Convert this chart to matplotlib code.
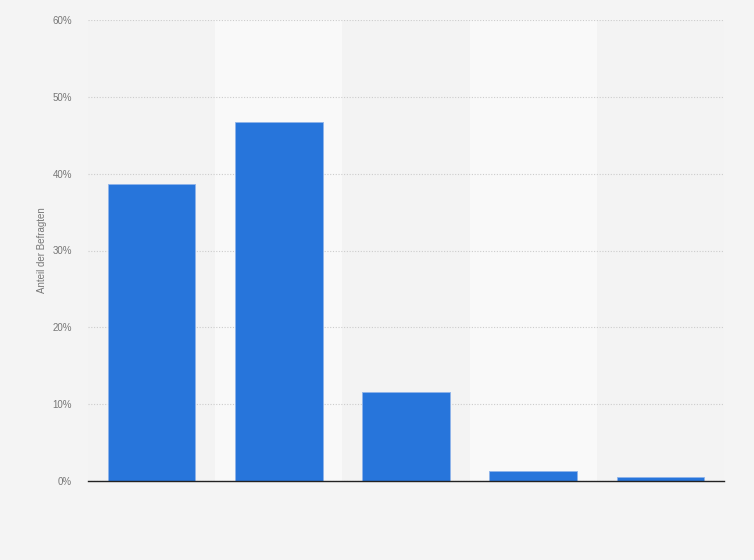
import matplotlib
matplotlib.use("Agg")
import matplotlib.pyplot as plt
import numpy as np

categories = ["Kategorie 1", "Kategorie 2", "Kategorie 3", "Kategorie 4", "Kategorie 5"]
values = [38.7, 46.7, 11.6, 1.3, 0.5]
yticks = [0, 10, 20, 30, 40, 50, 60]
ytick_labels = ["0%", "10%", "20%", "30%", "40%", "50%", "60%"]
ylabel = "Anteil der Befragten"

plt.rcParams['font.family'] = ['Liberation Sans', 'DejaVu Sans']

fig = plt.figure(figsize=(7.54, 5.6), dpi=100, facecolor="#f4f4f4")
ax = fig.add_axes([88/754, 1-481/560, 636/754, 461/560])
ax.set_facecolor("#f3f3f3")

x = np.arange(len(categories))
for i in x:
    if i % 2 == 1:
        ax.axvspan(i - 0.5, i + 0.5, color="#f9f9f9", zorder=0, lw=0)

ax.bar(x, values, width=0.69, color="#2775db", edgecolor="#8fb4ea", linewidth=0.6, zorder=3)

ax.set_xlim(-0.5, len(categories) - 0.5)
ax.set_ylim(0, 60)
ax.set_yticks(yticks)
ax.set_yticklabels(ytick_labels, fontsize=7, color="#777777")
ax.set_xticks([])
ax.yaxis.grid(True, linestyle=(0, (1, 1.5)), color="#cccccc", linewidth=0.8, zorder=1)
ax.set_axisbelow(True)
ax.tick_params(axis='y', length=0, pad=11.5)
for s in ["top", "right", "left"]:
    ax.spines[s].set_visible(False)
ax.spines["bottom"].set_color("#222222")
ax.spines["bottom"].set_linewidth(1.0)
ax.spines["bottom"].set_zorder(4)

ax.set_ylabel(ylabel, fontsize=7, color="#777777", labelpad=4)

fig.savefig("out.png", dpi=100, facecolor=fig.get_facecolor())
